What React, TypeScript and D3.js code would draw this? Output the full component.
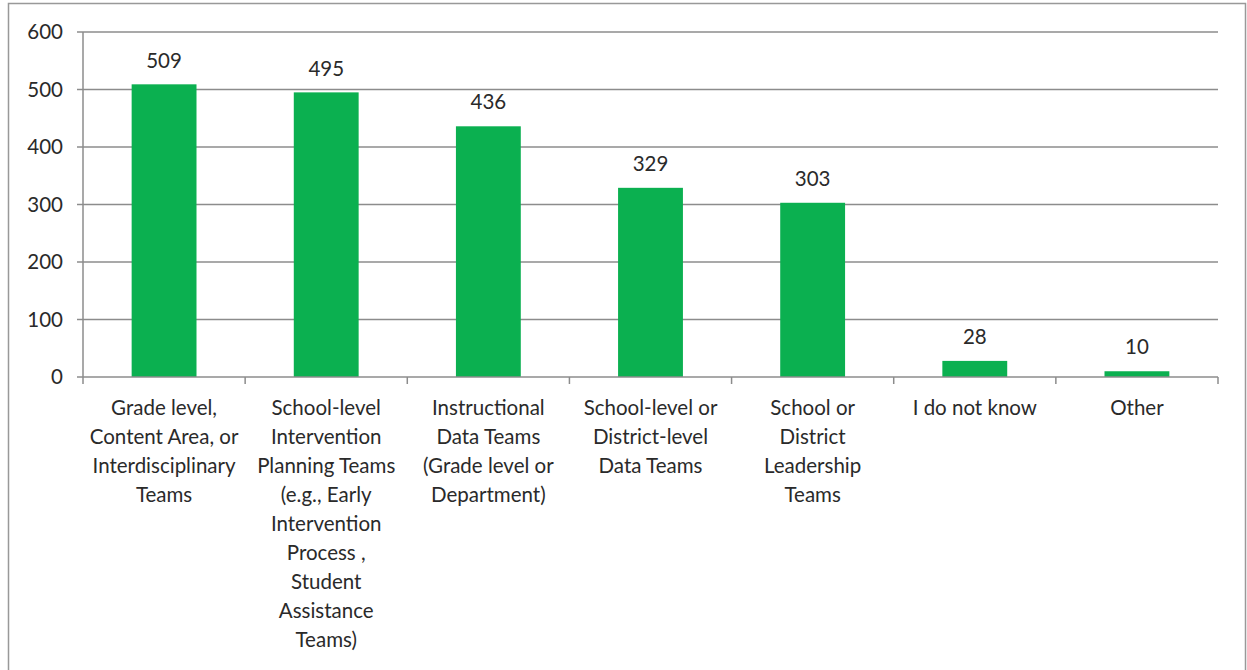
import React from "react";
import * as d3 from "d3";

const categories: string[][] = [
  ["Grade level,", "Content Area, or", "Interdisciplinary", "Teams"],
  ["School-level", "Intervention", "Planning Teams", "(e.g., Early", "Intervention", "Process ,", "Student", "Assistance", "Teams)"],
  ["Instructional", "Data Teams", "(Grade level or", "Department)"],
  ["School-level or", "District-level", "Data Teams"],
  ["School or", "District", "Leadership", "Teams"],
  ["I do not know"],
  ["Other"],
];
const values: number[] = [509, 495, 436, 329, 303, 28, 10];
const yTicks: number[] = [0, 100, 200, 300, 400, 500, 600];

const W = 1247;
const H = 670;
const left = 83;
const right = 1218;
const top = 32;
const bottom = 377;
const FONT = "Lato, 'Open Sans', sans-serif";
const FS = 20.5;
const TEXT = "#2a2a2a";

export default function App() {
  const x = d3.scaleBand<number>().domain(values.map((_, i) => i)).range([left, right]).paddingInner(0.6).paddingOuter(0.3);
  const xs = d3.scaleBand<number>().domain(values.map((_, i) => i)).range([left, right]);
  const y = d3.scaleLinear().domain([0, 600]).range([bottom, top]);
  return (
    <svg width={W} height={H} style={{ position: "absolute", left: 0, top: 0 }}>
      <rect x={0} y={0} width={W} height={H} fill="#fff" />
      <rect x={8.5} y={3.5} width={1237} height={680} fill="#fff" stroke="#999" strokeWidth={1.5} />
      {yTicks.map((t) => (
        <g key={t}>
          {t > 0 && <line x1={left} x2={right} y1={y(t)} y2={y(t)} stroke="#8c8c8c" strokeWidth={1.5} />}
          <line x1={left - 6} x2={left} y1={y(t)} y2={y(t)} stroke="#8c8c8c" strokeWidth={1.5} />
          <text x={left - 20} y={y(t)} dy="0.35em" textAnchor="end" fontFamily={FONT} fontSize={FS} fill={TEXT}>{t}</text>
        </g>
      ))}
      <line x1={left} x2={left} y1={top} y2={bottom} stroke="#8c8c8c" strokeWidth={1.5} />
      {values.map((v, i) => (
        <rect key={i} x={x(i)} y={y(v)} width={x.bandwidth()} height={bottom - y(v)} fill="#0bb050" />
      ))}
      <line x1={left} x2={right} y1={bottom} y2={bottom} stroke="#8c8c8c" strokeWidth={1.5} />
      {d3.range(values.length + 1).map((i) => {
        const xx = i < values.length ? (xs(i) as number) : right;
        return <line key={i} x1={xx} x2={xx} y1={bottom} y2={bottom + 7} stroke="#8c8c8c" strokeWidth={1.5} />;
      })}
      {values.map((v, i) => (
        <text key={i} x={(x(i) as number) + x.bandwidth() / 2} y={y(v) - 24} dy="0.35em" textAnchor="middle" fontFamily={FONT} fontSize={FS} fill={TEXT}>{v}</text>
      ))}
      {categories.map((lines, i) => (
        <text key={i} textAnchor="middle" fontFamily={FONT} fontSize={FS} fill={TEXT}>
          {lines.map((l, j) => (
            <tspan key={j} x={(xs(i) as number) + xs.bandwidth() / 2} y={408 + j * 29} dy="0.35em">{l}</tspan>
          ))}
        </text>
      ))}
    </svg>
  );
}
